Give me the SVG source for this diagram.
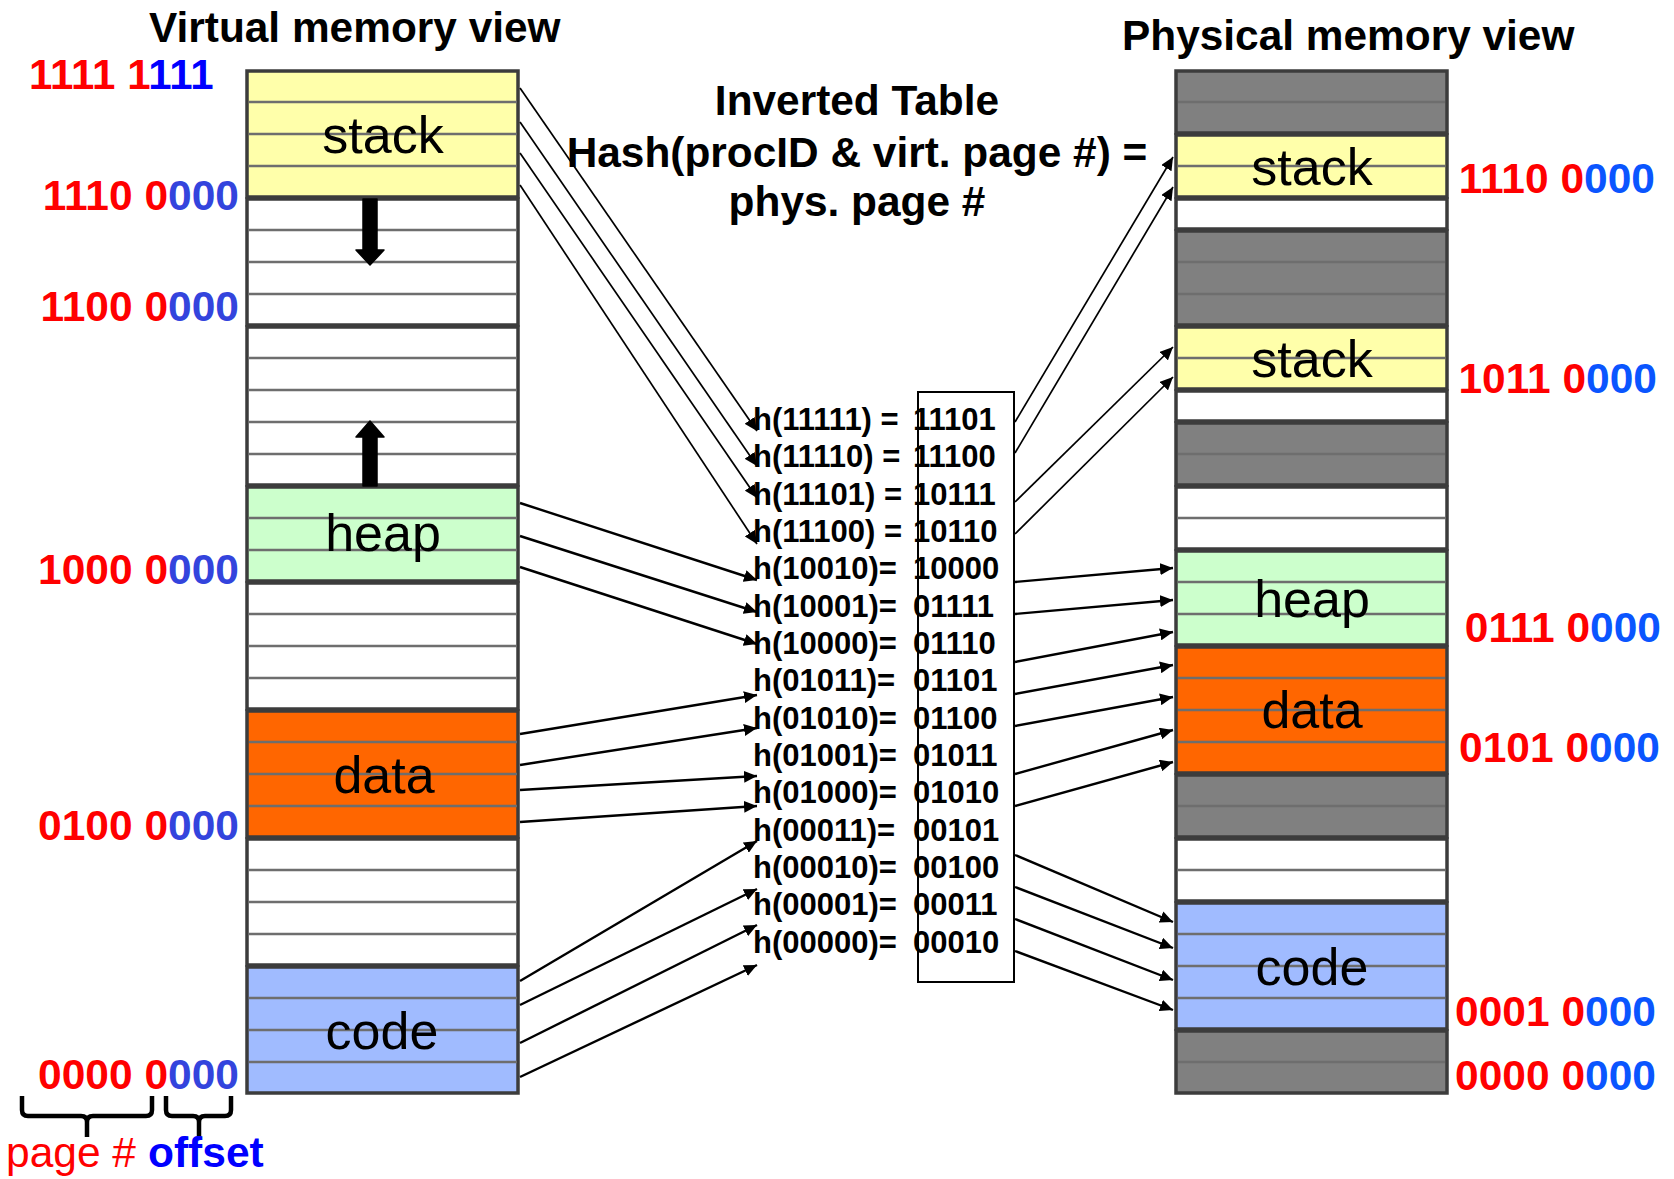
<svg xmlns="http://www.w3.org/2000/svg" width="1674" height="1179" viewBox="0 0 1674 1179">
<style>
.seg{stroke:#3c3c3c;stroke-width:3.5}
.stack{fill:#ffffaa}.heap{fill:#ccffcc}.data{fill:#ff6600}.code{fill:#a0bbff}.gray{fill:#808080}.white{fill:#ffffff}
.row{stroke:#6e6e6e;stroke-width:2.3}
.title{font-family:"Liberation Sans",Arial,sans-serif;font-weight:bold;font-size:42.4px;fill:#000}
.lbl{font-family:"Liberation Sans",Arial,sans-serif;font-size:52px;fill:#000;text-anchor:middle}
.addr{font-family:"Liberation Sans",Arial,sans-serif;font-weight:bold;font-size:42.5px;fill:#ff0000}
.top{font-size:42px}
.bl{fill:#3344dd}.br{fill:#0a55ff}.bp{fill:#0000ff}
.tab{font-family:"Liberation Sans",Arial,sans-serif;font-weight:bold;font-size:31px;fill:#000}
.c1{stroke:#000;stroke-width:1.7;fill:none;marker-end:url(#ah)}
.c2{stroke:#000;stroke-width:2.4;fill:none;marker-end:url(#ah)}
.brace{stroke:#000;stroke-width:4.5;fill:none}
</style>
<defs>
<marker id="ah" markerUnits="userSpaceOnUse" markerWidth="14" markerHeight="12" refX="13" refY="6" orient="auto">
<path d="M0,0 L13,6 L0,12 Z" fill="#000"/>
</marker>
</defs>
<rect width="1674" height="1179" fill="#fff"/>

<text class="title" x="149" y="42">Virtual memory view</text>
<text class="title" x="1122" y="50">Physical memory view</text>

<g id="virtual-memory">
<rect class="seg stack" x="247" y="71" width="271" height="126"/>
<rect class="seg white" x="247" y="199" width="271" height="126"/>
<rect class="seg white" x="247" y="327" width="271" height="158"/>
<rect class="seg heap" x="247" y="487" width="271" height="94"/>
<rect class="seg white" x="247" y="583" width="271" height="126"/>
<rect class="seg data" x="247" y="711" width="271" height="126"/>
<rect class="seg white" x="247" y="839" width="271" height="126"/>
<rect class="seg code" x="247" y="967" width="271" height="126"/>
<g class="row">
<line x1="249" y1="102" x2="517" y2="102"/><line x1="249" y1="134" x2="517" y2="134"/><line x1="249" y1="166" x2="517" y2="166"/>
<line x1="249" y1="230" x2="517" y2="230"/><line x1="249" y1="262" x2="517" y2="262"/><line x1="249" y1="294" x2="517" y2="294"/>
<line x1="249" y1="358" x2="517" y2="358"/><line x1="249" y1="390" x2="517" y2="390"/><line x1="249" y1="422" x2="517" y2="422"/><line x1="249" y1="454" x2="517" y2="454"/>
<line x1="249" y1="518" x2="517" y2="518"/><line x1="249" y1="550" x2="517" y2="550"/>
<line x1="249" y1="614" x2="517" y2="614"/><line x1="249" y1="646" x2="517" y2="646"/><line x1="249" y1="678" x2="517" y2="678"/>
<line x1="249" y1="742" x2="517" y2="742"/><line x1="249" y1="774" x2="517" y2="774"/><line x1="249" y1="806" x2="517" y2="806"/>
<line x1="249" y1="870" x2="517" y2="870"/><line x1="249" y1="902" x2="517" y2="902"/><line x1="249" y1="934" x2="517" y2="934"/>
<line x1="249" y1="998" x2="517" y2="998"/><line x1="249" y1="1030" x2="517" y2="1030"/><line x1="249" y1="1062" x2="517" y2="1062"/>
</g>
<text class="lbl" x="383" y="153">stack</text>
<text class="lbl" x="383" y="551">heap</text>
<text class="lbl" x="384" y="793">data</text>
<text class="lbl" x="382" y="1049">code</text>
<path d="M363,199 L377,199 L377,250 L384,250 L370,265 L356,250 L363,250 Z" fill="#000" stroke="#000" stroke-width="1.5" stroke-linejoin="round"/>
<path d="M363,486 L377,486 L377,437 L384,437 L370,421 L356,437 L363,437 Z" fill="#000" stroke="#000" stroke-width="1.5" stroke-linejoin="round"/>
</g>

<g id="virtual-addresses">
<text class="addr top" x="29" y="89">1111 1<tspan class="bp">111</tspan></text>
<text class="addr" x="239" y="210" text-anchor="end">1110 0<tspan class="bl">000</tspan></text>
<text class="addr" x="239" y="321" text-anchor="end">1100 0<tspan class="bl">000</tspan></text>
<text class="addr" x="239" y="584" text-anchor="end">1000 0<tspan class="bl">000</tspan></text>
<text class="addr" x="239" y="840" text-anchor="end">0100 0<tspan class="bl">000</tspan></text>
<text class="addr" x="239" y="1089" text-anchor="end">0000 0<tspan class="bl">000</tspan></text>
</g>

<g id="address-legend">
<path class="brace" d="M22,1096 V1110 Q22,1116 28,1116 H81 Q87,1116 87,1122 V1137 M87,1122 Q87,1116 93,1116 H146 Q152,1116 152,1110 V1096"/>
<path class="brace" d="M166,1096 V1110 Q166,1116 172,1116 H193 Q199,1116 199,1122 V1138 M199,1122 Q199,1116 205,1116 H225 Q231,1116 231,1110 V1096"/>
<text x="6" y="1167" font-family="Liberation Sans, Arial, sans-serif" font-size="42.5" fill="#ff0000">page #</text>
<text x="148" y="1167" font-family="Liberation Sans, Arial, sans-serif" font-size="42.5" font-weight="bold" fill="#0000ff">offset</text>
</g>

<g id="physical-memory">
<rect class="seg gray" x="1176" y="71" width="271" height="62"/>
<rect class="seg stack" x="1176" y="135" width="271" height="62"/>
<rect class="seg white" x="1176" y="199" width="271" height="30"/>
<rect class="seg gray" x="1176" y="231" width="271" height="94"/>
<rect class="seg stack" x="1176" y="327" width="271" height="62"/>
<rect class="seg white" x="1176" y="391" width="271" height="30"/>
<rect class="seg gray" x="1176" y="423" width="271" height="62"/>
<rect class="seg white" x="1176" y="487" width="271" height="62"/>
<rect class="seg heap" x="1176" y="551" width="271" height="94"/>
<rect class="seg data" x="1176" y="647" width="271" height="126"/>
<rect class="seg gray" x="1176" y="775" width="271" height="62"/>
<rect class="seg white" x="1176" y="839" width="271" height="62"/>
<rect class="seg code" x="1176" y="903" width="271" height="126"/>
<rect class="seg gray" x="1176" y="1031" width="271" height="62"/>
<g class="row">
<line x1="1178" y1="102" x2="1445" y2="102"/>
<line x1="1178" y1="166" x2="1445" y2="166"/>
<line x1="1178" y1="262" x2="1445" y2="262"/><line x1="1178" y1="294" x2="1445" y2="294"/>
<line x1="1178" y1="358" x2="1445" y2="358"/>
<line x1="1178" y1="454" x2="1445" y2="454"/>
<line x1="1178" y1="518" x2="1445" y2="518"/>
<line x1="1178" y1="582" x2="1445" y2="582"/><line x1="1178" y1="614" x2="1445" y2="614"/>
<line x1="1178" y1="678" x2="1445" y2="678"/><line x1="1178" y1="710" x2="1445" y2="710"/><line x1="1178" y1="742" x2="1445" y2="742"/>
<line x1="1178" y1="806" x2="1445" y2="806"/>
<line x1="1178" y1="870" x2="1445" y2="870"/>
<line x1="1178" y1="934" x2="1445" y2="934"/><line x1="1178" y1="966" x2="1445" y2="966"/><line x1="1178" y1="998" x2="1445" y2="998"/>
<line x1="1178" y1="1062" x2="1445" y2="1062"/>
</g>
<text class="lbl" x="1312" y="185">stack</text>
<text class="lbl" x="1312" y="377">stack</text>
<text class="lbl" x="1312" y="617">heap</text>
<text class="lbl" x="1312" y="728">data</text>
<text class="lbl" x="1312" y="985">code</text>
</g>

<g id="physical-addresses">
<text class="addr" x="1655" y="193" text-anchor="end">1110 0<tspan class="br">000</tspan></text>
<text class="addr" x="1657" y="393" text-anchor="end">1011 0<tspan class="br">000</tspan></text>
<text class="addr" x="1661" y="642" text-anchor="end">0111 0<tspan class="br">000</tspan></text>
<text class="addr" x="1660" y="762" text-anchor="end">0101 0<tspan class="br">000</tspan></text>
<text class="addr" x="1656" y="1026" text-anchor="end">0001 0<tspan class="br">000</tspan></text>
<text class="addr" x="1656" y="1090" text-anchor="end">0000 0<tspan class="br">000</tspan></text>
</g>

<g id="inverted-table-box">
<rect x="918" y="392" width="96" height="590" fill="#fff" stroke="#000" stroke-width="2"/>
</g>

<g id="connectors">
<line class="c1" x1="520" y1="88" x2="757" y2="431"/>
<line class="c1" x1="520" y1="122" x2="757" y2="466"/>
<line class="c1" x1="520" y1="153" x2="757" y2="498"/>
<line class="c1" x1="520" y1="185" x2="757" y2="544"/>
<line class="c2" x1="520" y1="503" x2="757" y2="580"/>
<line class="c2" x1="520" y1="536" x2="757" y2="612"/>
<line class="c2" x1="520" y1="567" x2="757" y2="644"/>
<line class="c2" x1="520" y1="734" x2="757" y2="695"/>
<line class="c2" x1="520" y1="765" x2="757" y2="728"/>
<line class="c2" x1="520" y1="790" x2="757" y2="776"/>
<line class="c2" x1="520" y1="822" x2="757" y2="806"/>
<line class="c2" x1="520" y1="981" x2="757" y2="841"/>
<line class="c2" x1="520" y1="1005" x2="757" y2="889"/>
<line class="c2" x1="520" y1="1043" x2="757" y2="925"/>
<line class="c2" x1="520" y1="1077" x2="757" y2="965"/>
<line class="c1" x1="1015" y1="422" x2="1173" y2="157"/>
<line class="c1" x1="1015" y1="453" x2="1173" y2="187"/>
<line class="c1" x1="1015" y1="502" x2="1173" y2="347"/>
<line class="c1" x1="1015" y1="534" x2="1173" y2="377"/>
<line class="c2" x1="1015" y1="582" x2="1173" y2="568"/>
<line class="c2" x1="1015" y1="614" x2="1173" y2="600"/>
<line class="c2" x1="1015" y1="662" x2="1173" y2="632"/>
<line class="c2" x1="1015" y1="694" x2="1173" y2="665"/>
<line class="c2" x1="1015" y1="726" x2="1173" y2="697"/>
<line class="c2" x1="1015" y1="774" x2="1173" y2="730"/>
<line class="c2" x1="1015" y1="806" x2="1173" y2="762"/>
<line class="c2" x1="1015" y1="855" x2="1173" y2="922"/>
<line class="c2" x1="1015" y1="887" x2="1173" y2="948"/>
<line class="c2" x1="1015" y1="919" x2="1173" y2="980"/>
<line class="c2" x1="1015" y1="951" x2="1173" y2="1010"/>
</g>

<g id="inverted-table-title">
<text class="title" x="857" y="115" text-anchor="middle">Inverted Table</text>
<text class="title" x="857" y="167" text-anchor="middle">Hash(procID &amp; virt. page #) =</text>
<text class="title" x="857" y="216" text-anchor="middle">phys. page #</text>
</g>

<g id="inverted-table-entries" class="tab">
<text x="753" y="430">h(11111) = <tspan x="913">11101</tspan></text>
<text x="753" y="467">h(11110) = <tspan x="913">11100</tspan></text>
<text x="753" y="505">h(11101) = <tspan x="913">10111</tspan></text>
<text x="753" y="542">h(11100) = <tspan x="913">10110</tspan></text>
<text x="753" y="579">h(10010)= <tspan x="913">10000</tspan></text>
<text x="753" y="617">h(10001)= <tspan x="913">01111</tspan></text>
<text x="753" y="654">h(10000)= <tspan x="913">01110</tspan></text>
<text x="753" y="691">h(01011)= <tspan x="913">01101</tspan></text>
<text x="753" y="729">h(01010)= <tspan x="913">01100</tspan></text>
<text x="753" y="766">h(01001)= <tspan x="913">01011</tspan></text>
<text x="753" y="803">h(01000)= <tspan x="913">01010</tspan></text>
<text x="753" y="841">h(00011)= <tspan x="913">00101</tspan></text>
<text x="753" y="878">h(00010)= <tspan x="913">00100</tspan></text>
<text x="753" y="915">h(00001)= <tspan x="913">00011</tspan></text>
<text x="753" y="953">h(00000)= <tspan x="913">00010</tspan></text>
</g>
</svg>
